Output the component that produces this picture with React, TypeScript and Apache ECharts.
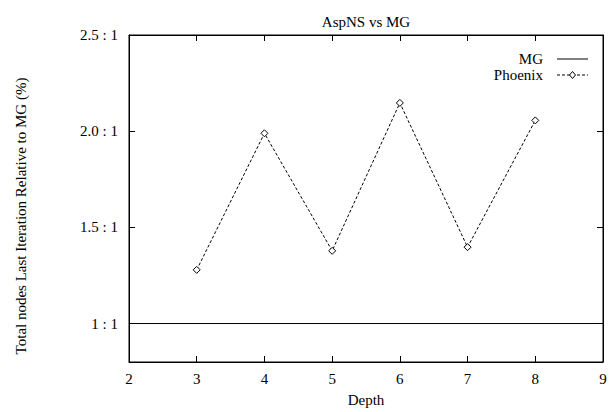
import React, { useEffect, useRef } from "react";
import * as echarts from "echarts";

const depths = [3, 4, 5, 6, 7, 8];
const phoenix = [1.279, 1.989, 1.378, 2.147, 1.397, 2.056];
const mgLine = [[2, 1], [9, 1]];
const yTicks = [1, 1.5, 2, 2.5];
const titleText = "AspNS vs MG";
const xName = "Depth";
const yName = "Total nodes Last Iteration Relative to MG (%)";
const legendNames = ["MG", "Phoenix"];

const FONT = "'Liberation Serif', 'DejaVu Serif', serif";
const FS = 15;

export default function App() {
  const ref = useRef<HTMLDivElement>(null);
  useEffect(() => {
    if (!ref.current) return;
    const chart = echarts.init(ref.current, null, { renderer: "svg" });
    const yFmt = (v: number) => (v === 1 ? "1 : 1" : v.toFixed(1) + " : 1");
    const tickStyle = { show: true, inside: true, length: 6, lineStyle: { color: "#000", width: 1 } };
    const legendRight = 543;
    const lineX1 = 557;
    const lineX2 = 588;
    const row0 = 59;
    const rowGap = 16;
    const lx = (lineX1 + lineX2) / 2;
    const ly = row0 + rowGap;
    chart.setOption({
      animation: false,
      backgroundColor: "#fff",
      textStyle: { fontFamily: FONT, color: "#000" },
      title: {
        text: titleText,
        left: 361,
        top: 9,
        textAlign: "center",
        textStyle: { fontFamily: FONT, fontSize: FS, fontWeight: "normal", color: "#000" },
      },
      grid: {
        left: 129,
        right: 13,
        top: 35,
        bottom: 44,
        show: true,
        borderColor: "#000",
        borderWidth: 1,
        backgroundColor: "transparent",
      },
      graphic: [
        {
          type: "text",
          x: 21,
          y: 216,
          rotation: Math.PI / 2,
          style: { text: yName, align: "center", verticalAlign: "middle", fontFamily: FONT, fontSize: FS, fill: "#000" },
        },
        {
          type: "text",
          x: legendRight,
          y: row0,
          style: { text: legendNames[0], align: "right", verticalAlign: "middle", fontFamily: FONT, fontSize: FS, fill: "#000" },
        },
        {
          type: "line",
          shape: { x1: lineX1, y1: row0, x2: lineX2, y2: row0 },
          style: { stroke: "#000", lineWidth: 1 },
        },
        {
          type: "text",
          x: legendRight,
          y: ly,
          style: { text: legendNames[1], align: "right", verticalAlign: "middle", fontFamily: FONT, fontSize: FS, fill: "#000" },
        },
        {
          type: "line",
          shape: { x1: lineX1, y1: ly, x2: lineX2, y2: ly },
          style: { stroke: "#000", lineWidth: 1, lineDash: [3, 2] },
        },
        {
          type: "polygon",
          shape: { points: [[lx, ly - 3.5], [lx + 3, ly], [lx, ly + 3.5], [lx - 3, ly]] },
          style: { fill: "#fff", stroke: "#000", lineWidth: 1 },
        },
      ],
      xAxis: [
        {
          type: "value",
          min: 2,
          max: 9,
          interval: 1,
          name: xName,
          nameLocation: "middle",
          nameGap: 30,
          nameTextStyle: { fontFamily: FONT, fontSize: FS, color: "#000" },
          axisLine: { show: true, lineStyle: { color: "#000" } },
          axisTick: tickStyle,
          axisLabel: { fontFamily: FONT, fontSize: FS, color: "#000", margin: 9 },
          splitLine: { show: false },
        },
        {
          type: "value",
          position: "top",
          min: 2,
          max: 9,
          interval: 1,
          axisLine: { show: true, lineStyle: { color: "#000" } },
          axisTick: tickStyle,
          axisLabel: { show: false },
          splitLine: { show: false },
        },
      ],
      yAxis: [
        {
          type: "value",
          min: 0.8,
          max: 2.5,
          axisLine: { show: true, lineStyle: { color: "#000" } },
          axisTick: { ...tickStyle, customValues: yTicks },
          axisLabel: { fontFamily: FONT, fontSize: FS, color: "#000", margin: 11, customValues: yTicks, formatter: yFmt },
          splitLine: { show: false },
        },
        {
          type: "value",
          position: "right",
          min: 0.8,
          max: 2.5,
          axisLine: { show: true, lineStyle: { color: "#000" } },
          axisTick: { ...tickStyle, customValues: yTicks },
          axisLabel: { show: false, customValues: yTicks },
          splitLine: { show: false },
        },
      ],
      series: [
        {
          name: "MG",
          type: "line",
          data: mgLine,
          showSymbol: false,
          symbol: "none",
          lineStyle: { color: "#000", width: 1, type: "solid" },
          itemStyle: { color: "#000" },
        },
        {
          name: "Phoenix",
          type: "line",
          data: depths.map((d, i) => [d, phoenix[i]]),
          symbol: "diamond",
          symbolSize: 7,
          lineStyle: { color: "#000", width: 1, type: [3, 2] },
          itemStyle: { color: "#fff", borderColor: "#000", borderWidth: 1 },
        },
      ],
    });
    return () => chart.dispose();
  }, []);
  return <div ref={ref} style={{ position: "fixed", left: 0, top: 0, width: 616, height: 412 }} />;
}
